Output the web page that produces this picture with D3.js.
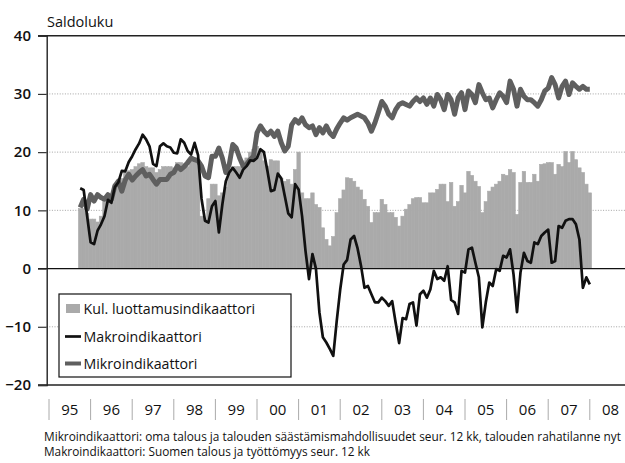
<!DOCTYPE html>
<html>
<head>
<meta charset="utf-8">
<script src="https://cdn.jsdelivr.net/npm/d3@7"></script>
<style>
  body { margin: 0; background: #fff; }
  svg text { font-family: "Open Sans", "Noto Sans", sans-serif; fill: #111; }
</style>
</head>
<body>
<div class="chart"></div>
<script>
var width = 625, height = 463;

// monthly data, first value = October 1995 (month index 9 from Jan 1995)
var firstMonth = 9;

var kul = [
  10.3, 10.3, 9.5, 8.5, 8.5, 8, 9, 11.5, 12, 12.5,
  14.5, 15, 15.5, 16.5, 16.8, 17, 17.5, 18, 18.2, 17.5,
  17.3, 17.3, 16.5, 17, 17.5, 17.5, 17.5, 17.3, 18.2, 18.2,
  18, 17.5, 18.5, 19, 18, 9, 8.5, 12, 14.5, 14.5,
  12.5, 13, 14, 17, 17.5, 17.5, 17.5, 18.5, 19, 20,
  20.5, 21, 20.5, 18.5, 17.6, 18.7, 18.5, 18.5, 15.5, 15,
  15.3, 14.5, 17, 20, 13, 12, 12, 13, 11, 10.5,
  7, 5, 3.9, 5.5, 9.6, 12, 13.5, 15.6, 15.5, 15,
  14, 13.5, 11.9, 10.7, 7.9, 9.6, 9.6, 11.9, 11, 9.6,
  9.6, 8.8, 7.3, 9, 10.2, 11, 12, 12.2, 12.2, 11.3,
  11.3, 13, 13, 13.6, 14.5, 14.5, 11.5, 14.8, 10.7, 11.5,
  14.3, 13, 16.7, 16, 15, 14.1, 9.6, 11.5, 13.3, 14,
  14.5, 15, 16.2, 16, 17, 16.5, 9.3, 14.8, 16.7, 14.8,
  14.8, 16.2, 15, 17.9, 18, 18.2, 18.2, 16.2, 17.9, 17.5,
  20.1, 18.2, 20.1, 18.7, 17.3, 16.5, 14.5, 13
];

var makro = [
  13.8, 13.5, 9, 4.5, 4.2, 6.5, 7.6, 9.0, 11.8, 11.3,
  14.0, 14.8, 16.8, 16.7, 18.3, 19.3, 20.5, 21.5, 23.0, 22.2,
  21, 18, 17.6, 21, 21.5, 21, 20.8, 19.9, 19.8, 22.2,
  21.6, 20.2, 19.6, 21.6, 19.5, 12, 8.2, 7.9, 10.7, 11.6,
  6.2, 11, 15, 16.5, 17.3, 16.5, 15.6, 17, 17.6, 18.6,
  18.5, 19, 20.5, 20, 16.8, 13.3, 13.5, 16.3, 15.5, 12.5,
  9.5, 8.8, 14.5, 13.6, 9, 3, -1.8, 2.5, 0, -7.5,
  -11.8, -12.7, -13.8, -15, -9, -3.6, 0.7, 1.5, 5, 5.6,
  3.5, 0.5, -3.3, -3, -4.4, -5.8, -5.8, -5, -5.6, -6.4,
  -5.6, -9.3, -12.8, -8.5, -8.7, -6.1, -5.8, -9.8, -4.4, -3.8,
  -5, -3.6, -0.4, -1.8, -1.5, -2.1, 0.4, -5.4, -5.8, -7.8,
  -0.4, -0.7, 3.3, 3.6, 1, -1.5, -10.1, -5.8, -2.4, -3,
  -0.1, -0.4, 2.2, 1.9, 3.3, -1, -7.5, -0.7, 2.7, 1.3,
  1, 4.5, 4.2, 5.6, 6.2, 6.7, 1, 1.3, 7.3, 7,
  8.2, 8.5, 8.5, 7.6, 5, -3.3, -1.5, -2.7
];

var mikro = [
  10.5, 11.9, 10.2, 12.7, 11.6, 12.7, 12.2, 11.9, 12.7, 11.9,
  14.2, 15, 13.3, 15.2, 16.2, 15.2, 15.9, 16.5, 17, 15.9,
  16.2, 15.3, 14.5, 15.3, 15.3, 15.3, 16.2, 16.5, 17.6, 17,
  17.5, 18.2, 19, 18.7, 18.5, 17.6, 15.9, 15.6, 19.3, 19.3,
  20.7, 19, 16.5, 17.9, 21.3, 20.7, 19, 17.6, 17.9, 18.7,
  19.3, 23.3, 24.5, 23.6, 23, 23.6, 22.7, 23.6, 21.6, 20.2,
  21, 24.7, 25.6, 25, 25.9, 24.7, 24.2, 24.5, 23, 24.2,
  23.3, 24.5, 23.3, 22.7, 24, 25, 25.9, 25.5, 25.9, 26.2,
  26.5, 26.2, 25.9, 25, 23.6, 25, 26.8, 28.7, 27.9, 26.5,
  25.9, 27.3, 28.2, 28.5, 28.2, 27.9, 28.7, 29.3, 28.7, 29.3,
  28.2, 29.3, 27.9, 29.9, 29, 27.3, 29.9, 29, 26.5, 29.3,
  30.2, 27.3, 30.5, 29.9, 28.5, 31.6, 30.2, 29, 29.3, 27.6,
  29, 30.2, 29.6, 28.5, 32.2, 30.8, 27.9, 30.8, 29.6, 29,
  29, 28.5, 27.9, 29, 30.5, 31, 32.8, 31.6, 29.3, 31.3,
  32.2, 29.9, 31.9, 31.3, 30.8, 31.3, 30.8, 30.8
];

var yearLabels = ['95', '96', '97', '98', '99', '00', '01', '02', '03', '04', '05', '06', '07', '08'];
var yTicks = [-20, -10, 0, 10, 20, 30, 40];
var gridValues = [-10, 10, 20, 30];

var legendNames = ['Kul. luottamusindikaattori', 'Makroindikaattori', 'Mikroindikaattori'];
var notes = [
  'Mikroindikaattori: oma talous ja talouden säästämismahdollisuudet seur. 12 kk, talouden rahatilanne nyt',
  'Makroindikaattori: Suomen talous ja työttömyys seur. 12 kk'
];

var left = 46.7, right = 625;

var svg = d3.select('.chart')
  .append('svg')
  .attr('width', width)
  .attr('height', height);

svg.append('rect').attr('width', width).attr('height', height).attr('fill', '#fff');

// months since Jan 1995
var x = d3.scaleLinear().domain([0, 156]).range([49, 589.8]);
var y = d3.scaleLinear().domain([-20, 40]).range([385, 35.7]);
var bw = x(1) - x(0);

// grid
svg.append('g')
  .selectAll('line')
  .data(gridValues)
  .enter().append('line')
  .attr('x1', left).attr('x2', right)
  .attr('y1', function(d) { return y(d); })
  .attr('y2', function(d) { return y(d); })
  .attr('stroke', '#9a9a9a')
  .attr('stroke-width', 0.9)
  .attr('stroke-dasharray', '1,1.6');

// bars (contiguous columns)
svg.append('g')
  .selectAll('rect')
  .data(kul)
  .enter().append('rect')
  .attr('x', function(d, i) { return x(firstMonth + i) - bw / 2; })
  .attr('width', bw)
  .attr('y', function(d) { return y(Math.max(0, d)); })
  .attr('height', function(d) { return Math.abs(y(d) - y(0)); })
  .attr('fill', '#aaaaaa')
  .attr('stroke', '#aaaaaa')
  .attr('stroke-width', 0.6);

// zero line
svg.append('line')
  .attr('x1', 38).attr('x2', right)
  .attr('y1', y(0)).attr('y2', y(0))
  .attr('stroke', '#111').attr('stroke-width', 1.3);

var line = d3.line()
  .x(function(d, i) { return x(firstMonth + i); })
  .y(function(d) { return y(d); });

svg.append('path')
  .datum(mikro)
  .attr('d', line)
  .attr('fill', 'none')
  .attr('stroke', '#5f5f5f')
  .attr('stroke-width', 5)
  .attr('stroke-linejoin', 'round');

svg.append('path')
  .datum(makro)
  .attr('d', line)
  .attr('fill', 'none')
  .attr('stroke', '#111')
  .attr('stroke-width', 2.7)
  .attr('stroke-linejoin', 'round');

// frame lines
svg.append('line')
  .attr('x1', 38).attr('x2', right)
  .attr('y1', y(40)).attr('y2', y(40))
  .attr('stroke', '#222').attr('stroke-width', 1.5);
svg.append('line')
  .attr('x1', 38).attr('x2', right)
  .attr('y1', y(-20)).attr('y2', y(-20))
  .attr('stroke', '#222').attr('stroke-width', 1.5);

// y axis
var yAxis = svg.append('g')
  .attr('transform', 'translate(' + left + ',0)')
  .call(d3.axisLeft(y).tickValues(yTicks).tickSize(8.7).tickPadding(7));
yAxis.select('.domain').attr('stroke', '#222').attr('stroke-width', 1.4);
yAxis.selectAll('.tick line').attr('stroke', '#333').attr('stroke-width', 1.2);
yAxis.selectAll('.tick text')
  .attr('font-size', 15)
  .attr('font-weight', 600)
  .attr('fill', '#111')
  .style('font-family', '"Open Sans", sans-serif');

svg.append('text')
  .attr('x', 47).attr('y', 27)
  .attr('font-size', 14.5)
  .attr('font-weight', 500)
  .text('Saldoluku');

// year separators and labels
var yearScale = d3.scaleLinear().domain([0, 13]).range([x(0), x(156)]);
svg.append('g')
  .selectAll('line')
  .data(d3.range(0, 14))
  .enter().append('line')
  .attr('x1', function(d) { return yearScale(d); })
  .attr('x2', function(d) { return yearScale(d); })
  .attr('y1', 399).attr('y2', 420)
  .attr('stroke', '#aaa')
  .attr('stroke-width', 1);

svg.append('g')
  .selectAll('text')
  .data(yearLabels)
  .enter().append('text')
  .attr('x', function(d, i) { return yearScale(i + 0.5); })
  .attr('y', 415)
  .attr('text-anchor', 'middle')
  .attr('font-size', 15)
  .attr('font-weight', 500)
  .text(function(d) { return d; });

// legend
var lg = svg.append('g').attr('class', 'legend');
lg.append('rect')
  .attr('x', 59).attr('y', 294)
  .attr('width', 232).attr('height', 83)
  .attr('fill', '#fff')
  .attr('stroke', '#111')
  .attr('stroke-width', 1.2);

lg.append('rect')
  .attr('x', 66).attr('y', 304)
  .attr('width', 14).attr('height', 9)
  .attr('fill', '#aaaaaa');
lg.append('line')
  .attr('x1', 65).attr('x2', 81)
  .attr('y1', 336.5).attr('y2', 336.5)
  .attr('stroke', '#111').attr('stroke-width', 2.7);
lg.append('line')
  .attr('x1', 65).attr('x2', 81)
  .attr('y1', 363.5).attr('y2', 363.5)
  .attr('stroke', '#5f5f5f').attr('stroke-width', 4);

lg.selectAll('text')
  .data(legendNames)
  .enter().append('text')
  .attr('x', 83.5)
  .attr('y', function(d, i) { return 314 + i * 27.5; })
  .attr('font-size', 14.2)
  .text(function(d) { return d; });

// notes
svg.append('g')
  .selectAll('text')
  .data(notes)
  .enter().append('text')
  .attr('x', 44)
  .attr('y', function(d, i) { return 440.5 + i * 15.8; })
  .attr('font-size', 11.8)
  .attr('textLength', function(d, i) { return i === 0 ? 577 : 326; })
  .attr('lengthAdjust', 'spacingAndGlyphs')
  .text(function(d) { return d; });
</script>
</body>
</html>
